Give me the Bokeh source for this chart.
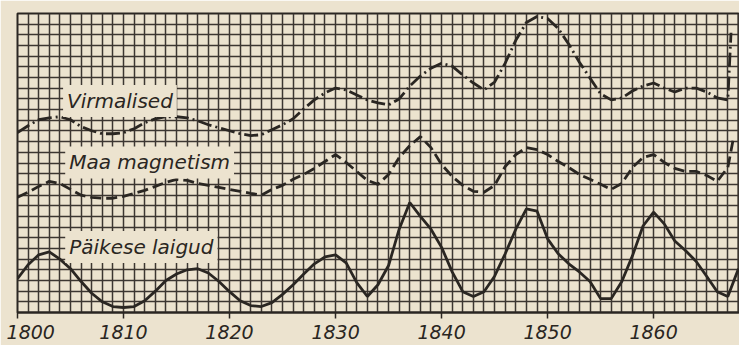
from bokeh.plotting import figure
from bokeh.models import Range1d, FixedTicker, SingleIntervalTicker, Label
from bokeh.embed import file_html
from bokeh.resources import INLINE

# ---- data (y in grid units, 1 unit = 1 grid cell) ----
years = list(range(1800, 1869))
sunspots = [3.16, 4.47, 5.4, 5.67, 5.0, 4.1, 2.9, 1.8, 1.0, 0.56,
            0.47, 0.56, 1.1, 2.0, 3.0, 3.6, 4.0, 4.1, 3.7, 2.9,
            1.95, 1.1, 0.65, 0.56, 0.93, 1.7, 2.6, 3.6, 4.56, 5.2,
            5.4, 4.65, 2.8, 1.5, 2.6, 4.4, 7.8, 10.3, 9.0, 7.8,
            6.1, 3.8, 1.95, 1.5, 1.95, 3.4, 5.5, 7.8, 9.7, 9.5,
            6.9, 5.5, 4.56, 3.8, 2.9, 1.3, 1.3, 2.9, 5.3, 8.1,
            9.4, 8.3, 6.7, 5.8, 4.8, 3.4, 1.95, 1.5, 4.1]

aurora_years = list(range(1800, 1868)) + [1867.3]
aurora = [16.84, 17.49, 18.05, 18.23, 18.33, 18.05, 17.40, 17.02, 16.74, 16.74,
          16.84, 17.21, 17.77, 18.14, 18.33, 18.33, 18.23, 17.95, 17.58, 17.30,
          17.02, 16.74, 16.56, 16.65, 17.12, 17.58, 18.14, 19.07, 19.91, 20.56,
          21.02, 20.84, 20.37, 19.91, 19.63, 19.44, 20.0, 21.21, 22.14, 22.88,
          23.35, 23.07, 22.23, 21.49, 20.84, 21.58, 23.35, 25.49, 27.16, 27.72,
          27.53, 26.60, 25.12, 23.44, 21.95, 20.47, 19.91, 20.09, 20.74, 21.21,
          21.49, 21.02, 20.65, 21.02, 21.02, 20.65, 20.09, 19.91, 26.2]

magnet_years = list(range(1800, 1868)) + [1867.5]
magnet = [10.79, 11.26, 11.81, 12.28, 12.09, 11.53, 10.98, 10.79, 10.70, 10.70,
          10.88, 11.16, 11.44, 11.81, 12.19, 12.47, 12.37, 12.09, 11.91, 11.72,
          11.53, 11.35, 11.16, 10.98, 11.53, 11.91, 12.47, 12.93, 13.49, 14.14,
          14.79, 14.05, 13.21, 12.37, 12.0, 12.93, 14.51, 15.63, 16.47, 15.44,
          13.86, 12.74, 11.91, 11.35, 11.26, 11.91, 13.67, 14.79, 15.44, 15.26,
          14.79, 14.14, 13.58, 12.93, 12.47, 12.0, 11.53, 12.09, 13.58, 14.51,
          14.79, 14.05, 13.49, 13.21, 13.21, 12.84, 12.28, 13.58, 16.19]

tick_years = [1800, 1810, 1820, 1830, 1840, 1850, 1860]
tick_labels = ["1800", "1810", "1820", "1830", "1840", "1850", "1860"]
series_names = ["Virmalised", "Maa magnetism", "Päikese laigud"]

# ---- style ----
PAPER = "#ece3cf"
INK = "#2a2622"
GRID = "#3c3631"
FONT = "DejaVu Sans"

p = figure(width=739, height=345, output_backend="svg", toolbar_location=None,
           x_range=Range1d(1800, 1868.1), y_range=Range1d(0, 28),
           min_border_left=17, min_border_right=0, min_border_top=13,
           min_border_bottom=31)
p.background_fill_color = PAPER
p.border_fill_color = PAPER
p.outline_line_color = INK
p.outline_line_width = 2

p.yaxis.visible = False
ax = p.xaxis[0]
ax.ticker = FixedTicker(ticks=tick_years)
# the first label sits just right of the frame corner in the original
overrides = {yr: lab for yr, lab in zip(tick_years, tick_labels)}
overrides[tick_years[0]] = "\u00a0" + tick_labels[0]
ax.major_label_overrides = overrides
ax.major_label_text_font = FONT
ax.major_label_text_font_style = "italic"
ax.major_label_text_font_size = "19px"
ax.major_label_text_color = INK
ax.major_label_standoff = 2
ax.major_tick_out = 6
ax.major_tick_in = 0
ax.minor_tick_out = 0
ax.minor_tick_in = 0
ax.axis_line_color = INK
ax.axis_line_width = 2
ax.major_tick_line_color = INK
ax.major_tick_line_width = 1.5

p.xgrid.ticker = SingleIntervalTicker(interval=1)
p.ygrid.ticker = SingleIntervalTicker(interval=1)
for g in (p.xgrid[0], p.ygrid[0]):
    g.grid_line_color = GRID
    g.grid_line_width = 1.5
    g.grid_line_alpha = 1.0

p.line(aurora_years, aurora, line_color=INK, line_width=2.8, line_dash="14 4 2 4")
p.line(magnet_years, magnet, line_color=INK, line_width=2.8, line_dash="11 5")
p.line(years, sunspots, line_color=INK, line_width=2.8)

# series name boxes
for name, (lx, ly) in zip(series_names, [(1804.3, 19.81), (1804.5, 14.05), (1804.5, 6.14)]):
    p.add_layout(Label(x=lx, y=ly, text=name, text_align="left",
                       text_baseline="middle", text_font=FONT,
                       text_font_style="italic", text_font_size="20px",
                       text_color=INK, background_fill_color=PAPER,
                       background_fill_alpha=1.0, padding=4))

open("out.html", "w").write(file_html(p, INLINE))
